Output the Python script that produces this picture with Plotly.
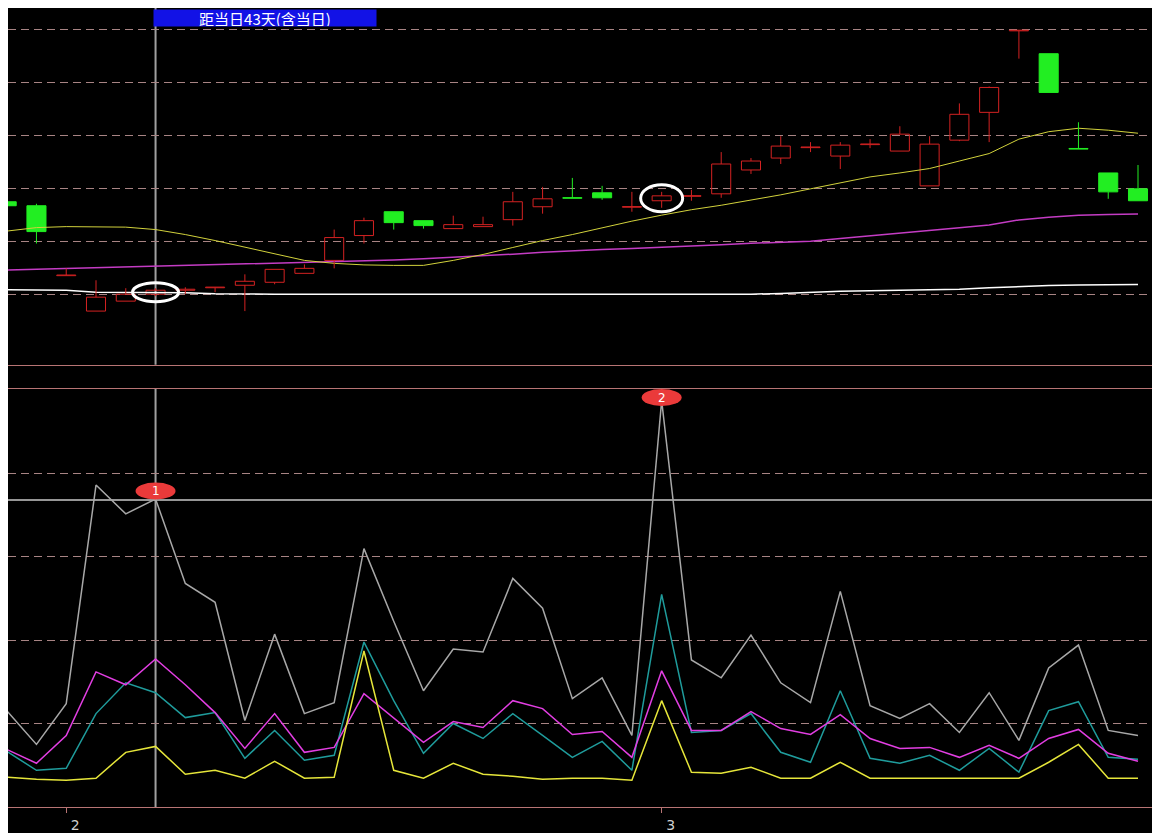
import plotly.graph_objects as go

# ---------------- data ----------------
idx = list(range(39))
open_ = [11.745, 11.670, 10.350, 9.681, 9.869, 10.000, 10.075, 10.122, 10.169, 10.225,
         10.394, 10.638, 11.107, 11.557, 11.388, 11.238, 11.276, 11.407, 11.651, 11.820,
         11.914, 11.642, 11.764, 11.848, 11.895, 12.345, 12.570, 12.767, 12.608, 12.824,
         12.702, 12.045, 12.908, 13.433, 14.972, 14.540, 12.749, 12.289, 11.989]
high = [11.782, 11.707, 10.488, 10.263, 10.113, 10.113, 10.131, 10.131, 10.375, 10.469,
        10.563, 11.220, 11.445, 11.557, 11.388, 11.482, 11.463, 11.932, 12.026, 12.195,
        12.045, 11.932, 11.932, 11.970, 12.683, 12.570, 12.983, 12.871, 12.871, 12.927,
        13.171, 12.983, 13.602, 13.921, 14.981, 14.540, 13.246, 12.289, 12.439]
low = [11.614, 10.957, 10.350, 9.681, 9.869, 9.962, 10.000, 10.038, 9.681, 10.188,
       10.394, 10.488, 10.957, 11.220, 11.238, 11.238, 11.276, 11.295, 11.520, 11.811,
       11.782, 11.557, 11.632, 11.764, 11.820, 12.270, 12.458, 12.683, 12.364, 12.758,
       12.702, 12.045, 12.889, 12.871, 14.447, 13.809, 12.739, 11.801, 11.764]
close = [11.670, 11.182, 10.360, 9.944, 10.000, 10.075, 10.094, 10.131, 10.244, 10.469,
         10.488, 11.069, 11.388, 11.351, 11.295, 11.313, 11.313, 11.745, 11.801, 11.811,
         11.820, 11.651, 11.857, 11.857, 12.458, 12.514, 12.796, 12.777, 12.814, 12.833,
         13.021, 12.833, 13.396, 13.903, 14.981, 13.809, 12.739, 11.932, 11.764]

ma_short = [11.191, 11.257, 11.276, 11.276, 11.266, 11.220, 11.126, 11.013, 10.891, 10.769,
            10.638, 10.582, 10.553, 10.544, 10.544, 10.638, 10.750, 10.882, 11.013, 11.126,
            11.257, 11.379, 11.492, 11.595, 11.679, 11.773, 11.876, 11.989, 12.101, 12.214,
            12.289, 12.373, 12.514, 12.655, 12.927, 13.068, 13.133, 13.096, 13.039]
ma_long = [10.456, 10.471, 10.486, 10.501, 10.518, 10.533, 10.546, 10.559, 10.572, 10.585,
           10.599, 10.612, 10.625, 10.644, 10.670, 10.694, 10.722, 10.756, 10.790, 10.824,
           10.846, 10.865, 10.884, 10.904, 10.932, 10.961, 10.976, 11.000, 11.051, 11.105,
           11.156, 11.206, 11.255, 11.306, 11.402, 11.452, 11.490, 11.503, 11.514]
base_line = [10.084, 10.084, 10.075, 10.038, 10.038, 10.038, 10.028, 10.009, 10.000, 10.000,
             10.000, 10.000, 10.000, 10.000, 10.000, 10.000, 10.000, 10.000, 10.000, 10.000,
             10.000, 10.000, 10.000, 10.000, 10.000, 10.000, 10.015, 10.038, 10.056, 10.066,
             10.071, 10.079, 10.094, 10.122, 10.150, 10.165, 10.173, 10.178, 10.184]

ind_gray = [11.55, 7.50, 12.38, 38.57, 35.12, 36.90, 26.79, 24.52, 10.36, 20.71,
            11.19, 12.50, 30.95, 22.26, 13.93, 18.93, 18.57, 27.38, 23.81, 12.98,
            15.48, 8.57, 48.69, 17.62, 15.48, 20.60, 14.88, 12.50, 25.83, 12.14,
            10.60, 12.38, 8.93, 13.69, 7.98, 16.67, 19.40, 9.17, 8.57]
ind_teal = [6.67, 4.40, 4.64, 11.19, 14.88, 13.69, 10.71, 11.31, 5.83, 9.17,
            5.60, 6.19, 19.76, 12.74, 6.43, 10.00, 8.21, 11.19, 8.57, 5.95,
            7.86, 4.40, 25.48, 8.93, 9.17, 11.19, 6.55, 5.36, 13.93, 5.83,
            5.24, 6.19, 4.40, 7.02, 4.17, 11.55, 12.62, 5.95, 5.71]
ind_magenta = [6.90, 5.24, 8.57, 16.19, 14.64, 17.74, 14.64, 11.31, 7.02, 11.19,
               6.55, 7.14, 13.57, 10.60, 7.74, 10.24, 9.52, 12.74, 11.79, 8.69,
               9.05, 5.95, 16.31, 9.17, 9.17, 11.43, 9.40, 8.69, 11.07, 8.21,
               7.02, 7.14, 5.95, 7.38, 5.83, 8.21, 9.29, 6.43, 5.48]
ind_yellow = [3.57, 3.33, 3.21, 3.45, 6.55, 7.26, 3.93, 4.40, 3.45, 5.48,
              3.45, 3.57, 18.69, 4.40, 3.45, 5.24, 3.93, 3.69, 3.33, 3.45,
              3.45, 3.21, 12.74, 4.17, 4.05, 4.76, 3.45, 3.45, 5.36, 3.45,
              3.45, 3.45, 3.45, 3.45, 3.45, 5.36, 7.50, 3.45, 3.45]
ind_level = 36.79

cursor_idx = 5
cursor_label = "距当日43天(含当日)"
ring_idx = [5, 22]
signal_idx = [5, 22]
signal_text = ["1", "2"]
tick_idx = [2, 22]
tick_text = ["2", "3"]

# ---------------- styles ----------------
RED = "#d42222"
GREEN = "#22ee22"
GRID = "#a88484"
BORDER = "#b87474"
XR = [0.044, 38.47]

fig = go.Figure()

# moving-average lines (top panel)
fig.add_trace(go.Scatter(x=idx, y=base_line, mode="lines", line=dict(color="#ffffff", width=1.5),
                         xaxis="x", yaxis="y", hoverinfo="skip"))
fig.add_trace(go.Scatter(x=idx, y=ma_long, mode="lines", line=dict(color="#c43cc4", width=1.5),
                         xaxis="x", yaxis="y", hoverinfo="skip"))
fig.add_trace(go.Scatter(x=idx, y=ma_short, mode="lines", line=dict(color="#d2d23c", width=1),
                         xaxis="x", yaxis="y", hoverinfo="skip"))

# candles: wicks + bodies
for is_up, col in ((True, RED), (False, GREEN)):
    wx, wy, bx, bb, bh = [], [], [], [], []
    for i in idx:
        o, h, l, c = open_[i], high[i], low[i], close[i]
        if (c >= o) != is_up:
            continue
        top, bot = max(o, c), min(o, c)
        wx += [i, i, None, i, i, None]
        wy += [h, top, None, bot, l, None]
        bx.append(i)
        bb.append(bot)
        bh.append(max(top - bot, 0.012))
    fig.add_trace(go.Scatter(x=wx, y=wy, mode="lines", line=dict(color=col, width=1),
                             xaxis="x", yaxis="y", hoverinfo="skip", connectgaps=False))
    fig.add_trace(go.Bar(x=bx, y=bh, base=bb, width=0.64,
                         marker=dict(color="rgba(0,0,0,0)" if is_up else col,
                                     line=dict(color=col, width=1)),
                         xaxis="x", yaxis="y", hoverinfo="skip"))

# indicator lines (bottom panel)
for vals, col in ((ind_gray, "#a8a8a8"), (ind_teal, "#1f9c9c"),
                  (ind_magenta, "#e23ee2"), (ind_yellow, "#e6e63a")):
    fig.add_trace(go.Scatter(x=idx, y=vals, mode="lines", line=dict(color=col, width=1.5),
                             xaxis="x2", yaxis="y2", hoverinfo="skip"))

shapes = []
# cursor vertical line in both panels
shapes.append(dict(type="line", xref="x", yref="y domain", x0=cursor_idx, x1=cursor_idx,
                   y0=0, y1=1, line=dict(color="#a0a0a0", width=2), layer="below"))
shapes.append(dict(type="line", xref="x2", yref="y2 domain", x0=cursor_idx, x1=cursor_idx,
                   y0=0, y1=1, line=dict(color="#a0a0a0", width=2), layer="below"))
# level line in bottom panel
shapes.append(dict(type="line", xref="x2 domain", yref="y2", x0=0, x1=1, y0=ind_level, y1=ind_level,
                   line=dict(color="#c8c8c8", width=1.5), layer="below"))
# white rings around candles
ring_size = [(23, 9.5), (21, 13.5)]
for k, i in enumerate(ring_idx):
    mid = (open_[i] + close[i]) / 2
    rx, ry = ring_size[k]
    shapes.append(dict(type="circle", xref="x", yref="y", xsizemode="pixel", ysizemode="pixel",
                       xanchor=i, yanchor=mid, x0=-rx, x1=rx, y0=-ry, y1=ry,
                       line=dict(color="#ffffff", width=3)))
# red signal markers
sig_shift = [8, 3]
annotations = []
for k, i in enumerate(signal_idx):
    v = ind_gray[i]
    s = sig_shift[k]
    shapes.append(dict(type="circle", xref="x2", yref="y2", xsizemode="pixel", ysizemode="pixel",
                       xanchor=i, yanchor=v, x0=-20, x1=20, y0=s - 8.5, y1=s + 8.5,
                       fillcolor="#ea3a3a", line=dict(width=0)))
    annotations.append(dict(x=i, y=v, xref="x2", yref="y2", yshift=s, text=signal_text[k],
                            showarrow=False, font=dict(color="#ffffff", size=12, family="DejaVu Sans")))

annotations.append(dict(x=cursor_idx, y=1, xref="x", yref="y domain", xanchor="left", yanchor="top",
                        xshift=-3, yshift=-1, text=cursor_label, showarrow=False,
                        bgcolor="#1212e6", borderpad=0, width=222, height=16,
                        font=dict(color="#ffffff", size=15, family="Noto Sans CJK SC")))

fig.update_layout(
    width=1144, height=825,
    margin=dict(l=0, r=0, t=0, b=21),
    paper_bgcolor="#000000", plot_bgcolor="#000000",
    showlegend=False, barmode="overlay",
    shapes=shapes, annotations=annotations,
    xaxis=dict(domain=[0, 1], range=XR, anchor="y", showgrid=False, zeroline=False,
               showticklabels=False, ticks="", showline=True, linecolor=BORDER, linewidth=1),
    yaxis=dict(domain=[0.5535, 1], range=[8.668, 15.403], tickvals=[10, 11, 12, 13, 14, 15],
               showticklabels=False, showgrid=True, gridcolor=GRID, gridwidth=1,
               griddash="8px,5px", zeroline=False, showline=False),
    xaxis2=dict(domain=[0, 1], range=XR, anchor="y2", showgrid=False, zeroline=False,
                showline=True, mirror=True, linecolor=BORDER, linewidth=1,
                ticks="outside", ticklen=5, tickcolor=BORDER, tickwidth=1,
                tickvals=tick_idx, ticktext=tick_text, ticklabelshift=9,
                tickfont=dict(color="#d0d0d0", size=14, family="DejaVu Sans")),
    yaxis2=dict(domain=[0, 0.5236], range=[0, 50.12], tickvals=[10, 20, 30, 40],
                showticklabels=False, showgrid=True, gridcolor=GRID, gridwidth=1,
                griddash="8px,5px", zeroline=False, showline=False),
)

# keep the page exactly the window size (figure flush with the right/bottom edges)
page_fit = ("document.body.style.margin='8px 0 0 8px';"
            "document.documentElement.style.overflow='hidden';")
fig.write_html("out.html", post_script=page_fit)
